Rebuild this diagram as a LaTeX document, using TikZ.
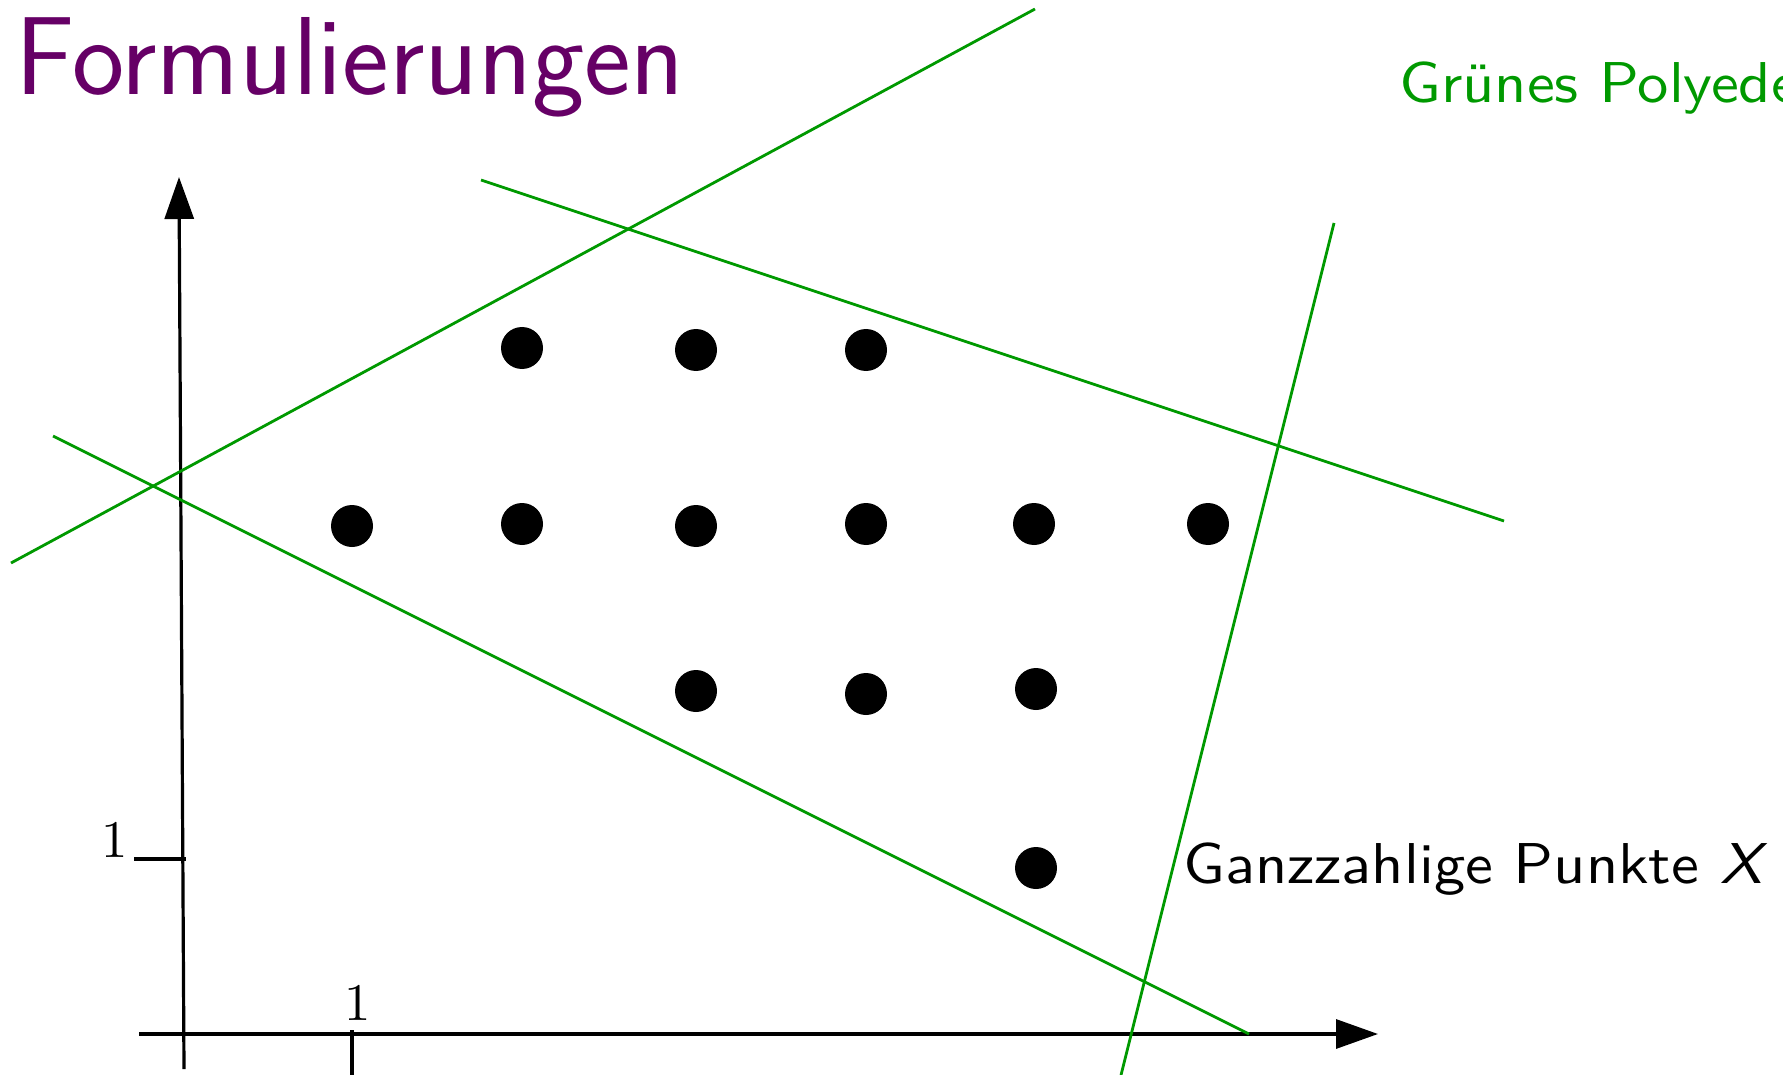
\documentclass[tikz,border=0pt]{standalone}
\usepackage{fontspec}
\usetikzlibrary{arrows.meta}
\newfontfamily\lmsten{lmsans10-regular.otf}[ItalicFont=lmsans10-oblique.otf,FakeStretch=1.085]
\newfontfamily\lmrten{lmroman10-regular.otf}
\definecolor{polygreen}{RGB}{0,153,0}
\definecolor{titlepurple}{RGB}{102,0,102}
\begin{document}
\begin{tikzpicture}[x=0.5pt,y=-0.5pt,
  axisline/.style={line width=1.6pt,-{Triangle[length=21pt,width=14.5pt]}},
  tickline/.style={line width=1.6pt},
  gline/.style={draw=polygreen,line width=1.4pt},
  ipt/.style={circle,fill=black,minimum size=21pt,inner sep=0pt},
  titletext/.style={inner sep=0pt,anchor=base west,text=titlepurple,font=\sffamily\fontsize{55.5}{60}\selectfont},
  labeltext/.style={inner sep=0pt,anchor=base west,font=\lmsten\fontsize{28.8}{34}\selectfont},
  ticklabel/.style={inner sep=0pt,font=\lmrten\fontsize{26.4}{30}\selectfont}]
\clip (0,0) rectangle (1783,1075);
\fill[white] (0,0) rectangle (1783,1075);

% title and labels
\node[titletext] (title) at (15,95) {Formulierungen};
\node[labeltext,text=polygreen] (poly) at (1399,103) {Grünes Polyeder};
\node[labeltext] (xlab) at (1183,883) {Ganzzahlige Punkte \textit{X}};

% axes
\coordinate (ybot) at (184,1069);
\coordinate (ytop) at (179,177);
\coordinate (xleft) at (139,1034);
\coordinate (xright) at (1378,1034);
\draw[axisline] (ybot) -- (ytop);
\draw[axisline] (xleft) -- (xright);

% ticks
\coordinate (yt1) at (134,859);
\coordinate (yt2) at (186,859);
\coordinate (xt1) at (352,1030);
\coordinate (xt2) at (352,1075);
\draw[tickline] (yt1) -- (yt2);
\draw[tickline] (xt1) -- (xt2);
\node[ticklabel] (ylab1) at (115,840) {1};
\node[ticklabel] (xlab1) at (358,1003) {1};

% green half-planes
\coordinate (g1a) at (11,563);  \coordinate (g1b) at (1035,9);
\coordinate (g2a) at (481,180); \coordinate (g2b) at (1504,521);
\coordinate (g3a) at (53,436);  \coordinate (g3b) at (1249,1034);
\coordinate (g4a) at (1334,223); \coordinate (g4b) at (1121,1075);
\draw[gline] (g1a) -- (g1b);
\draw[gline] (g2a) -- (g2b);
\draw[gline] (g3a) -- (g3b);
\draw[gline] (g4a) -- (g4b);

% integer points
\node[ipt] (p1) at (522,348) {};
\node[ipt] (p2) at (696,350) {};
\node[ipt] (p3) at (866,350) {};
\node[ipt] (p4) at (352,526) {};
\node[ipt] (p5) at (522,524) {};
\node[ipt] (p6) at (696,526) {};
\node[ipt] (p7) at (866,524) {};
\node[ipt] (p8) at (1034,524) {};
\node[ipt] (p9) at (1208,524) {};
\node[ipt] (p10) at (696,691) {};
\node[ipt] (p11) at (866,694) {};
\node[ipt] (p12) at (1036,689) {};
\node[ipt] (p13) at (1036,868) {};
\end{tikzpicture}
\end{document}
